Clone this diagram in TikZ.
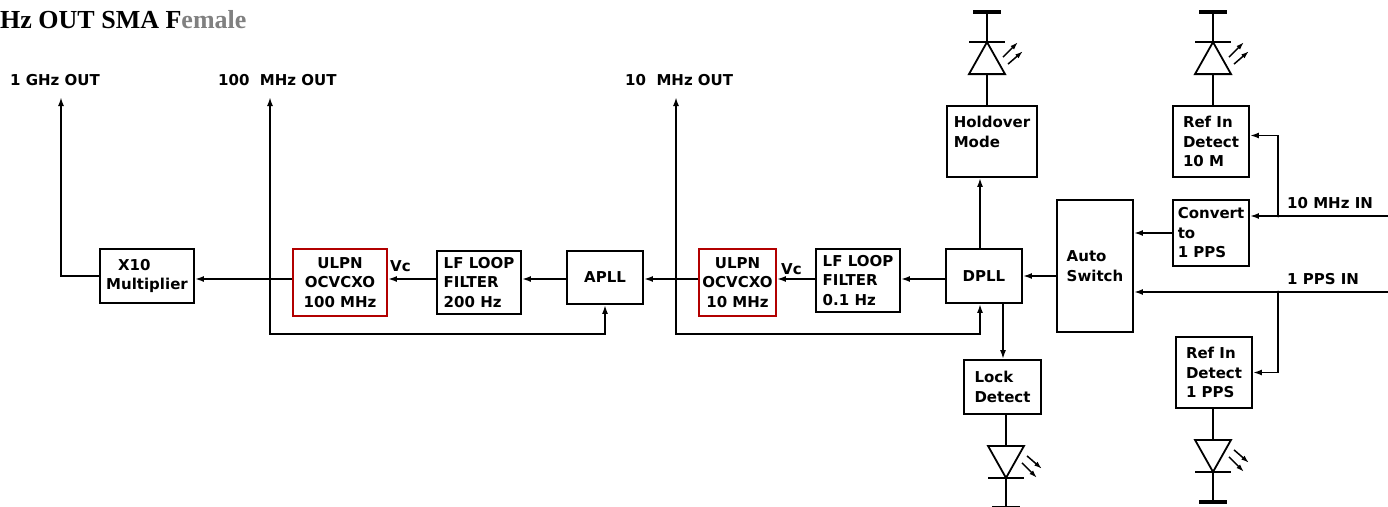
\documentclass[tikz,border=0pt]{standalone}
\usepackage{fontspec}
\setmainfont{DejaVu Sans}
\newfontfamily\headfont{Liberation Serif}
\usepackage{tikz}
\usetikzlibrary{positioning,arrows.meta}
\newcommand{\blkfont}{\fontsize{15}{19.5}\selectfont\bfseries}
\tikzset{
  blk/.style={draw, line width=1.8pt, align=left, inner sep=1pt, font=\blkfont},
  osc/.style={blk, draw=red!70!black, align=center},
  sig/.style={-{Latex[length=9pt,width=6pt]}, line width=1.8pt},
  wire/.style={line width=1.8pt},
  glow/.style={-{Latex[length=8pt,width=5pt]}, line width=1.5pt},
  lbl/.style={font=\blkfont, inner sep=0pt, anchor=west},
  led/.pic={
    \draw[wire] (0,0) -- (0,31);
    \draw[wire] (-18,31) -- (18,31) -- (0,63) -- cycle;
    \draw[wire] (-18,63) -- (18,63);
    \draw[wire] (0,63) -- (0,93);
    \draw[line width=4pt] (-14,93) -- (14,93);
    \draw[glow] (16,48) -- (31,63);
    \draw[glow] (21,41) -- (36,54);
  },
}

\begin{document}
\begin{tikzpicture}[x=1pt,y=1pt]
\useasboundingbox (0,0) rectangle (1388,-506);

%Nodes
\node[font=\headfont\bfseries\fontsize{26}{30}\selectfont, anchor=west, inner sep=0pt] (title) at (0,-20) {Hz OUT SMA F\textcolor{gray}{emale}};
\node[blk, minimum width=94pt, minimum height=54pt] (x10) at (147,-276) {\hspace*{12pt}X10\\Multiplier};
\node[osc, minimum width=94pt, minimum height=67pt] (ulpn100) at (340,-282.5) {ULPN\\OCVCXO\\100 MHz};
\node[blk, minimum width=84pt, minimum height=63pt] (lf200) at (479,-282.5) {LF LOOP\\FILTER\\200 Hz};
\node[blk, minimum width=76pt, minimum height=53pt] (apll) at (605,-277.5) {APLL};
\node[osc, minimum width=77pt, minimum height=67pt] (ulpn10) at (737.5,-282.5) {ULPN\\OCVCXO\\10 MHz};
\node[blk, minimum width=84pt, minimum height=63pt] (lf01) at (858,-280.5) {LF LOOP\\FILTER\\0.1 Hz};
\node[blk, minimum width=76pt, minimum height=54pt] (dpll) at (984,-276) {DPLL};
\node[blk, minimum width=90pt, minimum height=71pt] (holdover) at (992,-141.5) {Holdover\\Mode\\~};
\node[blk, minimum width=77pt, minimum height=54pt] (lock) at (1002.5,-387) {Lock\\Detect};
\node[blk, minimum width=76pt, minimum height=132pt] (auto) at (1095,-266) {Auto\\Switch};
\node[blk, minimum width=76pt, minimum height=66pt] (convert) at (1211,-233) {Convert\\to\\1 PPS};
\node[blk, minimum width=76pt, minimum height=71pt] (ref10) at (1211,-141.5) {Ref In\\Detect\\10 M};
\node[blk, minimum width=76pt, minimum height=71pt] (ref1pps) at (1214,-372.5) {Ref In\\Detect\\1 PPS};

%Labels
\node[lbl] (ghzout) at (10,-80) {1 GHz OUT};
\node[lbl] (out100) at (218,-80) {100\ \ MHz OUT};
\node[lbl] (out10) at (625,-80) {10\ \ MHz OUT};
\node[lbl] (in10) at (1287,-203) {10 MHz IN};
\node[lbl] (inpps) at (1287,-279) {1 PPS IN};
\node[lbl] (vc100) at (390,-266) {Vc};
\node[lbl] (vc10) at (781,-269) {Vc};

%Points
\coordinate (row) at (0,-279);
\coordinate (ghzend) at (61,-97);
\coordinate (o100) at (270,-97);
\coordinate (o10) at (676,-97);
\coordinate (fb100) at (270,-334);
\coordinate (fb10) at (676,-334);
\coordinate (in10end) at (1388,-216);
\coordinate (inppsend) at (1388,-292);
\coordinate (j10) at (1278,-216);
\coordinate (jpps) at (1278,-292);

%Lines
\draw[sig] (x10.west) -| (ghzend);
\draw[sig] (ulpn100.west |- row) -- (x10.east |- row);
\draw[sig] (o100 |- row) -- (o100);
\draw[sig] (o100 |- row) -- (fb100) -| (apll.south);
\draw[sig] (lf200.west |- row) -- (ulpn100.east |- row);
\draw[sig] (apll.west |- row) -- (lf200.east |- row);
\draw[sig] (ulpn10.west |- row) -- (apll.east |- row);
\draw[sig] (o10 |- row) -- (o10);
\draw[sig] (o10 |- row) -- (fb10) -| ([xshift=-4pt]dpll.south);
\draw[sig] (lf01.west |- row) -- (ulpn10.east |- row);
\draw[sig] (dpll.west |- row) -- (lf01.east |- row);
\draw[sig] ([xshift=-4pt]dpll.north) -- ([xshift=-4pt]dpll.north |- holdover.south);
\draw[sig] ([xshift=19pt]dpll.south) -- ([xshift=19pt]dpll.south |- lock.north);
\draw[sig] (auto.west |- dpll.east) -- (dpll.east);
\draw[sig] (convert.west) -- (convert.west -| auto.east);
\draw[sig] (in10end) -- (convert.east |- in10end);
\draw[sig] (j10) |- ([yshift=6pt]ref10.east);
\draw[sig] (inppsend) -- (auto.east |- inppsend);
\draw[sig] (jpps) |- (ref1pps.east);
\fill (j10) circle (1.5pt);
\fill (jpps) circle (1.5pt);

%LEDs
\pic[xshift=-5pt] at (holdover.north) {led};
\pic[xshift=2pt] at (ref10.north) {led};
\pic[xshift=3.5pt, yscale=-1] at (lock.south) {led};
\pic[xshift=-1pt, yscale=-1] at (ref1pps.south) {led};
\end{tikzpicture}
\end{document}
